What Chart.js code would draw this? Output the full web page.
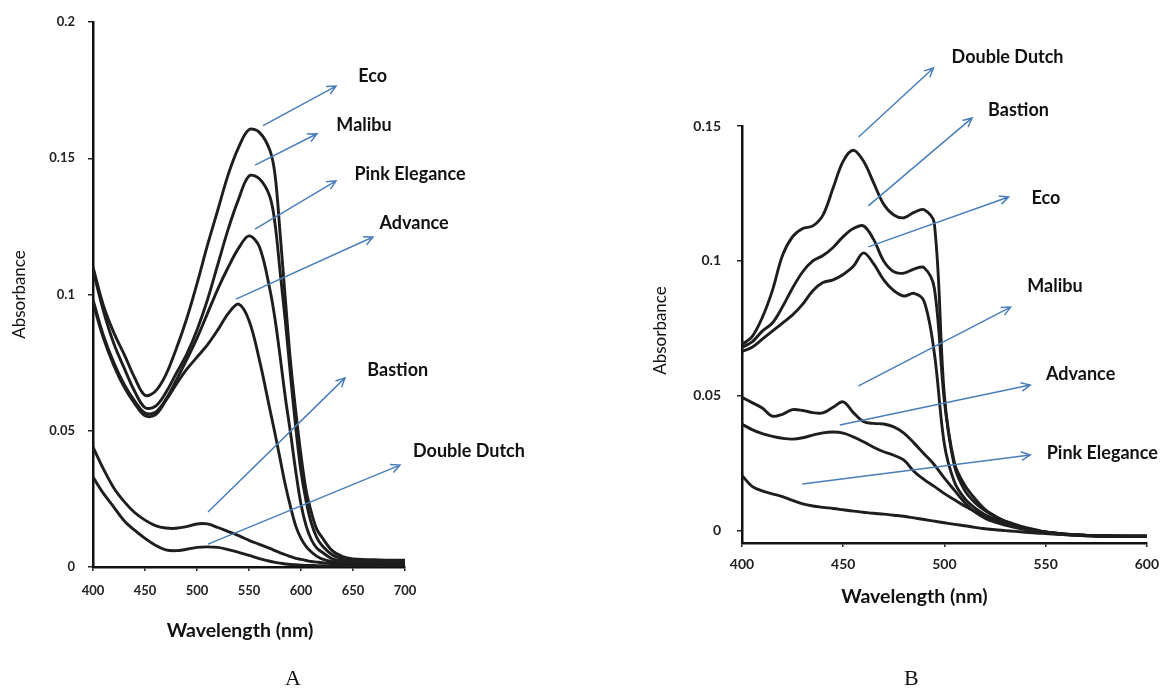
<!DOCTYPE html>
<html>
<head>
<meta charset="utf-8">
<script src="https://cdn.jsdelivr.net/npm/chart.js@4.4.1/dist/chart.umd.min.js"></script>
<style>
  body { margin: 0; background: #fff; }
  #wrap { position: relative; width: 1168px; height: 689px; }
  canvas { position: absolute; top: 0; }
  #chartA { left: 0; }
  #chartB { left: 584px; }
  .panel { position: absolute; top: 665px; font: 22px "Liberation Serif", serif; color: #111; }
</style>
</head>
<body>
<div id="wrap">
  <canvas id="chartA" width="584" height="689"></canvas>
  <canvas id="chartB" width="584" height="689"></canvas>
  <div class="panel" style="left:285px">A</div>
  <div class="panel" style="left:904px">B</div>
</div>
<script>
// ---- panel A data (wavelength in nm, absorbance) ----
const wlA = [400, 410, 420, 430, 440, 450, 460, 470, 480, 490, 500, 510, 520, 530, 540, 550, 560,
             570, 575, 580, 585, 590, 595, 600, 605, 610, 615, 620, 630, 640, 650, 675, 700];
const ecoA      = [0.110, 0.096, 0.086, 0.078, 0.0695, 0.063, 0.0645, 0.0705, 0.080, 0.091, 0.104, 0.118, 0.131, 0.144, 0.154, 0.1605, 0.1595,
                   0.153, 0.144, 0.122, 0.098, 0.075, 0.057, 0.041, 0.028, 0.020, 0.014, 0.011, 0.006, 0.0038, 0.003, 0.0026, 0.0025];
const malibuA   = [0.109, 0.094, 0.082, 0.073, 0.0645, 0.0585, 0.059, 0.064, 0.071, 0.078, 0.087, 0.098, 0.111, 0.124, 0.135, 0.1435, 0.1425,
                   0.136, 0.126, 0.108, 0.090, 0.070, 0.051, 0.035, 0.024, 0.016, 0.011, 0.008, 0.0045, 0.003, 0.0025, 0.002, 0.002];
const pinkA     = [0.098, 0.085, 0.075, 0.067, 0.061, 0.0565, 0.0568, 0.0615, 0.0685, 0.076, 0.084, 0.093, 0.102, 0.110, 0.117, 0.1215, 0.1175,
                   0.102, 0.091, 0.077, 0.062, 0.049, 0.035, 0.023, 0.015, 0.010, 0.007, 0.0055, 0.003, 0.0022, 0.002, 0.0016, 0.0015];
const advanceA  = [0.097, 0.084, 0.074, 0.066, 0.060, 0.0555, 0.0558, 0.061, 0.067, 0.0725, 0.077, 0.0815, 0.087, 0.093, 0.0965, 0.0905, 0.076,
                   0.058, 0.049, 0.0395, 0.030, 0.022, 0.015, 0.0105, 0.0075, 0.0055, 0.004, 0.003, 0.002, 0.0015, 0.0012, 0.001, 0.001];
const bastionA  = [0.044, 0.036, 0.029, 0.024, 0.020, 0.0172, 0.0152, 0.0143, 0.0142, 0.0148, 0.0158, 0.0158, 0.0145, 0.013, 0.0115, 0.0098, 0.0083,
                   0.0068, 0.006, 0.0052, 0.0045, 0.0038, 0.0032, 0.0028, 0.0024, 0.002, 0.0018, 0.0016, 0.0013, 0.0011, 0.001, 0.0008, 0.0008];
const dutchA    = [0.033, 0.027, 0.022, 0.017, 0.0135, 0.0105, 0.008, 0.0063, 0.006, 0.0065, 0.0072, 0.0074, 0.0072, 0.0064, 0.0054, 0.0043, 0.0031,
                   0.0021, 0.0017, 0.0014, 0.0011, 0.0009, 0.0008, 0.0007, 0.0006, 0.0006, 0.0005, 0.0005, 0.0005, 0.0004, 0.0004, 0.0004, 0.0004];
const xTicksA = [400, 450, 500, 550, 600, 650, 700];
const xLabelsA = ['400', '450', '500', '550', '600', '650', '700'];
const yTicksA = [0, 0.05, 0.1, 0.15, 0.2];
const yLabelsA = ['0', '0.05', '0.1', '0.15', '0.2'];

// ---- panel B data ----
const wlB = [400, 405, 410, 415, 420, 425, 430, 435, 440, 445, 450, 455, 460, 465, 470, 475, 480, 485, 490, 495,
             500, 505, 510, 515, 520, 525, 530, 535, 540, 545, 550, 560, 575, 600];
const dutchB    = [0.069, 0.072, 0.079, 0.089, 0.102, 0.109, 0.112, 0.113, 0.117, 0.127, 0.137, 0.141, 0.137, 0.129, 0.121, 0.117, 0.116, 0.118, 0.119, 0.114,
                   0.050, 0.025, 0.017, 0.012, 0.008, 0.0055, 0.0035, 0.002, 0.001, 0.0002, -0.0005, -0.0015, -0.002, -0.002];
const bastionB  = [0.068, 0.070, 0.074, 0.077, 0.083, 0.090, 0.096, 0.100, 0.102, 0.105, 0.109, 0.112, 0.113, 0.108, 0.100, 0.096, 0.0955, 0.097, 0.0975, 0.090,
                   0.048, 0.024, 0.015, 0.0105, 0.0075, 0.0052, 0.0036, 0.0024, 0.0013, 0.0004, -0.0004, -0.0013, -0.0018, -0.002];
const ecoB      = [0.0665, 0.068, 0.071, 0.074, 0.077, 0.080, 0.084, 0.089, 0.092, 0.093, 0.095, 0.098, 0.103, 0.099, 0.093, 0.089, 0.087, 0.088, 0.085, 0.066,
                   0.032, 0.018, 0.012, 0.0085, 0.006, 0.0043, 0.003, 0.0019, 0.001, 0.0002, -0.0004, -0.0012, -0.0018, -0.002];
const malibuB   = [0.0495, 0.0475, 0.0455, 0.0425, 0.0432, 0.0449, 0.0446, 0.0438, 0.0437, 0.0458, 0.0478, 0.0438, 0.0405, 0.0398, 0.0396, 0.0385, 0.0362, 0.0325, 0.0285, 0.0245,
                   0.0195, 0.015, 0.0105, 0.007, 0.0047, 0.0032, 0.0021, 0.0012, 0.0005, 0, -0.0005, -0.0012, -0.0018, -0.002];
const advanceB  = [0.0395, 0.0375, 0.036, 0.035, 0.0343, 0.034, 0.0345, 0.0355, 0.0363, 0.0366, 0.0362, 0.0348, 0.033, 0.031, 0.0293, 0.028, 0.0262, 0.022, 0.019, 0.0165,
                   0.0138, 0.0115, 0.0092, 0.0072, 0.0055, 0.004, 0.0027, 0.0016, 0.0008, 0.0001, -0.0005, -0.0012, -0.0018, -0.002];
const pinkB     = [0.0205, 0.0165, 0.0148, 0.0137, 0.0127, 0.0113, 0.0100, 0.0092, 0.0087, 0.0083, 0.0078, 0.0073, 0.0069, 0.0065, 0.0062, 0.0058, 0.0054, 0.0048, 0.0042, 0.0036,
                   0.003, 0.0024, 0.0019, 0.0013, 0.0008, 0.0004, 0.0001, -0.0002, -0.0005, -0.0008, -0.001, -0.0014, -0.0018, -0.002];
const xTicksB = [400, 450, 500, 550, 600];
const xLabelsB = ['400', '450', '500', '550', '600'];
const yTicksB = [0, 0.05, 0.1, 0.15];
const yLabelsB = ['0', '0.05', '0.1', '0.15'];

// callouts: arrow from/to and label centre, in data units
const calloutsA = [
  { text: 'Eco',           from: [563.5, 0.162],  to: [633.7, 0.1765], at: [669, 0.180] },
  { text: 'Malibu',        from: [555.8, 0.1475], to: [615.4, 0.159],  at: [660.6, 0.162] },
  { text: 'Pink Elegance', from: [555.8, 0.124],  to: [633.7, 0.1417], at: [704.8, 0.1442] },
  { text: 'Advance',       from: [537.5, 0.0983], to: [669.2, 0.1211], at: [708.7, 0.126] },
  { text: 'Bastion',       from: [510.6, 0.0202], to: [642.3, 0.0694], at: [693, 0.0723] },
  { text: 'Double Dutch',  from: [510.6, 0.0084], to: [695.2, 0.0374], at: [761.5, 0.0426] }
];
const calloutsB = [
  { text: 'Double Dutch',  from: [457.6, 0.1459], to: [494.6, 0.1715], at: [531.2, 0.1756] },
  { text: 'Bastion',       from: [462.4, 0.1204], to: [513.7, 0.153],  at: [536.6, 0.1559] },
  { text: 'Eco',           from: [462.4, 0.1052], to: [531.7, 0.1237], at: [550.2, 0.1233] },
  { text: 'Malibu',        from: [457.6, 0.0537], to: [532.7, 0.0829], at: [554.6, 0.0907] },
  { text: 'Advance',       from: [448.3, 0.0392], to: [542.4, 0.054],  at: [567.3, 0.0581] },
  { text: 'Pink Elegance', from: [429.8, 0.0174], to: [542.4, 0.0281], at: [578, 0.0288] }
];

const calloutPlugin = {
  id: 'callouts',
  afterDraw(chart, args, opts) {
    const { ctx, chartArea: area, scales: { x, y } } = chart;
    ctx.save();
    ctx.fillStyle = '#111';
    ctx.textAlign = 'center';
    ctx.textBaseline = 'middle';

    // axis titles
    ctx.font = 'bold 19.5px Lato';
    ctx.fillText('Wavelength (nm)', (area.left + area.right) / 2 + opts.xTitleShift, area.bottom + opts.xTitleGap);
    ctx.save();
    ctx.translate(opts.yTitleX, (area.top + area.bottom) / 2 + opts.yTitleShift);
    ctx.rotate(-Math.PI / 2);
    ctx.font = '17px Lato';
    ctx.fillText('Absorbance', 0, 0);
    ctx.restore();

    // blue arrows + sample names
    ctx.strokeStyle = '#4a7ebb';
    ctx.lineWidth = 1.5;
    ctx.font = 'bold 18px Lato';
    opts.items.forEach(c => {
      const x0 = x.getPixelForValue(c.from[0]), y0 = y.getPixelForValue(c.from[1]);
      const x1 = x.getPixelForValue(c.to[0]), y1 = y.getPixelForValue(c.to[1]);
      const ang = Math.atan2(y1 - y0, x1 - x0);
      const h = 10;
      ctx.beginPath();
      ctx.moveTo(x0, y0);
      ctx.lineTo(x1, y1);
      ctx.moveTo(x1 - h * Math.cos(ang - 0.45), y1 - h * Math.sin(ang - 0.45));
      ctx.lineTo(x1, y1);
      ctx.lineTo(x1 - h * Math.cos(ang + 0.45), y1 - h * Math.sin(ang + 0.45));
      ctx.stroke();
      ctx.fillText(c.text, x.getPixelForValue(c.at[0]), y.getPixelForValue(c.at[1]));
    });
    ctx.restore();
  }
};

function makeDatasets(wl, series) {
  return series.map(([name, values]) => ({
    label: name,
    data: wl.map((w, i) => ({ x: w, y: values[i] })),
    borderColor: '#1e1e1e',
    borderWidth: 2.9,
    pointRadius: 0,
    fill: false,
    tension: 0.35
  }));
}

function makeChart(id, cfg) {
  const tickFont = { family: 'Lato', weight: 'bold', size: cfg.tickSize };
  return new Chart(document.getElementById(id), {
    type: 'line',
    data: { datasets: makeDatasets(cfg.wl, cfg.series) },
    options: {
      responsive: false,
      animation: false,
      layout: { padding: cfg.padding },
      plugins: {
        legend: { display: false },
        tooltip: { enabled: false },
        callouts: cfg.callouts
      },
      scales: {
        x: {
          type: 'linear',
          min: cfg.xMin, max: cfg.xMax,
          afterBuildTicks: s => { s.ticks = cfg.xTicks.map(v => ({ value: v })); },
          afterFit: s => { s.height = cfg.xHeight; },
          ticks: { callback: (v, i) => cfg.xLabels[i], font: tickFont, color: '#222', padding: cfg.xPad, maxRotation: 0, autoSkip: false },
          grid: { drawOnChartArea: false, tickLength: 4, color: '#222', lineWidth: 1.5 },
          border: { color: '#111', width: 2.5 }
        },
        y: {
          min: cfg.yMin, max: cfg.yMax,
          afterBuildTicks: s => { s.ticks = cfg.yTicks.map(v => ({ value: v })); },
          afterFit: s => { s.width = cfg.yWidth; },
          ticks: { callback: (v, i) => cfg.yLabels[i], font: tickFont, color: '#222', padding: cfg.yPad },
          grid: { drawOnChartArea: false, tickLength: 5, color: '#222', lineWidth: 1.5 },
          border: { color: '#111', width: 2.5 }
        }
      }
    },
    plugins: [calloutPlugin]
  });
}

makeChart('chartA', {
  wl: wlA,
  series: [['Eco', ecoA], ['Malibu', malibuA], ['Pink Elegance', pinkA], ['Advance', advanceA], ['Bastion', bastionA], ['Double Dutch', dutchA]],
  xMin: 400, xMax: 700, yMin: 0, yMax: 0.2,
  xTicks: xTicksA, xLabels: xLabelsA, yTicks: yTicksA, yLabels: yLabelsA,
  padding: { left: 0, top: 22, right: 179, bottom: 0 },
  xHeight: 122, yWidth: 93, xPad: 12, yPad: 13, tickSize: 13,
  callouts: { items: calloutsA, xTitleShift: -9, xTitleGap: 64, yTitleX: 20, yTitleShift: 0 }
});

makeChart('chartB', {
  wl: wlB,
  series: [['Double Dutch', dutchB], ['Bastion', bastionB], ['Eco', ecoB], ['Malibu', malibuB], ['Advance', advanceB], ['Pink Elegance', pinkB]],
  xMin: 400, xMax: 600, yMin: -0.0045, yMax: 0.15,
  xTicks: xTicksB, xLabels: xLabelsB, yTicks: yTicksB, yLabels: yLabelsB,
  padding: { left: 0, top: 126, right: 16, bottom: 0 },
  xHeight: 146, yWidth: 158, xPad: 9, yPad: 16, tickSize: 14,
  callouts: { items: calloutsB, xTitleShift: -30, xTitleGap: 54, yTitleX: 77, yTitleShift: -4 }
});
</script>
</body>
</html>
